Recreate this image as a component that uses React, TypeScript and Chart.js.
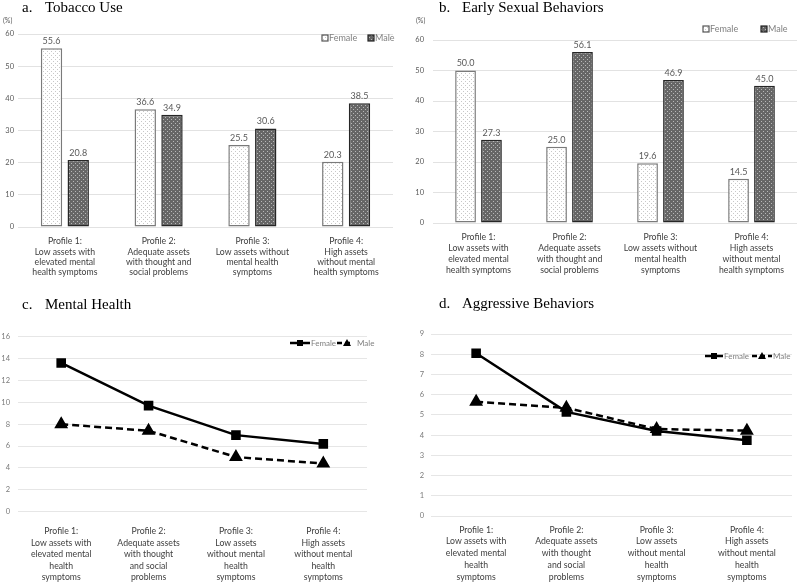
import React, { useEffect, useRef } from 'react';
import { Chart, registerables } from 'chart.js';

Chart.register(...registerables);

// ---------- data ----------
const barCategories = [
  ['Profile 1:', 'Low assets with', 'elevated mental', 'health symptoms'],
  ['Profile 2:', 'Adequate assets', 'with thought and', 'social problems'],
  ['Profile 3:', 'Low assets without', 'mental health', 'symptoms'],
  ['Profile 4:', 'High assets', 'without mental', 'health symptoms'],
];
const lineCategories = [
  ['Profile 1:', 'Low assets with', 'elevated mental', 'health', 'symptoms'],
  ['Profile 2:', 'Adequate assets', 'with thought', 'and social', 'problems'],
  ['Profile 3:', 'Low assets', 'without mental', 'health', 'symptoms'],
  ['Profile 4:', 'High assets', 'without mental', 'health', 'symptoms'],
];
const seriesNames = ['Female', 'Male'];

const tobaccoFemale = [55.6, 36.6, 25.5, 20.3];
const tobaccoMale = [20.8, 34.9, 30.6, 38.5];
const sexualFemale = [50.0, 25.0, 19.6, 14.5];
const sexualMale = [27.3, 56.1, 46.9, 45.0];
const mentalFemale = [13.6, 9.7, 7.0, 6.2];
const mentalMale = [8.0, 7.4, 5.0, 4.4];
const aggressiveFemale = [8.05, 5.15, 4.2, 3.75];
const aggressiveMale = [5.65, 5.35, 4.3, 4.22];

const percentTicks = { min: 0, max: 60, step: 10 };
const mentalTicks = { min: 0, max: 16, step: 2 };
const aggressiveTicks = { min: 0, max: 9, step: 1 };

// ---------- styles ----------
const SANS = "Lato, 'Open Sans', 'Liberation Sans', sans-serif";
const SERIF = "'Liberation Serif', 'Times New Roman', serif";
const CAT_SIZE = 8.7;

function makeDots(bg: string, dot: string) {
  const c = document.createElement('canvas');
  c.width = 4;
  c.height = 4;
  const x = c.getContext('2d')!;
  x.fillStyle = bg;
  x.fillRect(0, 0, 4, 4);
  x.fillStyle = dot;
  x.fillRect(1, 1, 1, 1);
  x.fillRect(3, 3, 1, 1);
  return x.createPattern(c, 'repeat');
}

function barConfig(p: any) {
  const femaleFill = makeDots('#ffffff', '#c8c8c8');
  const maleFill = makeDots('#666666', '#b8b8b8');
  const valueLabels = {
    id: 'valueLabels',
    afterDatasetsDraw(chart: any) {
      const ctx = chart.ctx;
      ctx.save();
      ctx.font = `9px ${SANS}`;
      ctx.fillStyle = '#595959';
      ctx.textAlign = 'center';
      ctx.textBaseline = 'middle';
      chart.data.datasets.forEach((ds: any, i: number) => {
        chart.getDatasetMeta(i).data.forEach((el: any, j: number) => {
          ctx.fillText(ds.data[j].toFixed(1), el.x, el.y - 7);
        });
      });
      ctx.restore();
    },
  };
  const boxLegend = {
    id: 'boxLegend',
    afterDraw(chart: any) {
      const ctx = chart.ctx;
      ctx.save();
      const fills = [femaleFill, maleFill];
      const strokes = ['#555555', '#222222'];
      seriesNames.forEach((name, i) => {
        const x = p.legendX[i];
        const y = p.legendY;
        ctx.fillStyle = fills[i];
        ctx.fillRect(x, y - 3, 6, 6);
        ctx.strokeStyle = strokes[i];
        ctx.lineWidth = 1.2;
        ctx.strokeRect(x, y - 3, 6, 6);
        ctx.fillStyle = '#808080';
        ctx.font = `9px ${SANS}`;
        ctx.textAlign = 'left';
        ctx.textBaseline = 'middle';
        ctx.fillText(name, x + 7, y);
      });
      ctx.restore();
    },
  };
  return {
    type: 'bar',
    data: {
      labels: barCategories,
      datasets: [
        {
          label: seriesNames[0],
          data: p.female,
          backgroundColor: femaleFill,
          borderColor: '#7a7a7a',
          borderWidth: 1.5,
          borderSkipped: false,
          barPercentage: 0.8,
          categoryPercentage: 0.57,
        },
        {
          label: seriesNames[1],
          data: p.male,
          backgroundColor: maleFill,
          borderColor: '#262626',
          borderWidth: 1.5,
          borderSkipped: false,
          barPercentage: 0.8,
          categoryPercentage: 0.57,
        },
      ],
    },
    options: {
      responsive: false,
      animation: false,
      layout: { padding: p.padding },
      plugins: { legend: { display: false }, tooltip: { enabled: false } },
      scales: {
        x: {
          grid: { display: false, drawTicks: false },
          border: { display: false },
          ticks: {
            autoSkip: false,
            maxRotation: 0,
            minRotation: 0,
            padding: p.xPad,
            color: '#404040',
            font: { family: SANS, size: CAT_SIZE, lineHeight: p.lh / CAT_SIZE },
          },
          afterFit: (s: any) => { s.height = p.xH; },
        },
        y: {
          min: p.ticks.min,
          max: p.ticks.max,
          ticks: { stepSize: p.ticks.step, padding: p.yPad, color: '#595959', font: { family: SANS, size: 7.5 } },
          grid: { color: '#e2e2e2', drawTicks: false },
          border: { display: false },
          afterFit: (s: any) => { s.width = p.yW; },
        },
      },
    },
    plugins: [valueLabels, boxLegend],
  };
}

function drawLineItem(ctx: any, x1: number, x2: number, y: number, dashed: boolean, style: string, mx: number, text: string, tx: number) {
  ctx.save();
  ctx.strokeStyle = '#000';
  ctx.lineWidth = 2.5;
  ctx.setLineDash(dashed ? [5, 3] : []);
  ctx.beginPath();
  ctx.moveTo(x1, y);
  ctx.lineTo(x2, y);
  ctx.stroke();
  ctx.setLineDash([]);
  ctx.fillStyle = '#000';
  if (style === 'rect') {
    ctx.fillRect(mx - 3, y - 3, 6, 6);
  } else {
    ctx.beginPath();
    ctx.moveTo(mx, y - 4);
    ctx.lineTo(mx + 4, y + 3);
    ctx.lineTo(mx - 4, y + 3);
    ctx.closePath();
    ctx.fill();
  }
  ctx.fillStyle = '#808080';
  ctx.font = `8px ${SANS}`;
  ctx.textAlign = 'left';
  ctx.textBaseline = 'middle';
  ctx.fillText(text, tx, y);
  ctx.restore();
}

function lineConfig(p: any) {
  const lineLegend = {
    id: 'lineLegend',
    afterDraw(chart: any) {
      const L = p.legend;
      drawLineItem(chart.ctx, L.f[0], L.f[1], L.y, false, 'rect', L.f[2], seriesNames[0], L.f[3]);
      drawLineItem(chart.ctx, L.m[0], L.m[1], L.y, true, 'triangle', L.m[2], seriesNames[1], L.m[3]);
    },
  };
  return {
    type: 'line',
    data: {
      labels: lineCategories,
      datasets: [
        {
          label: seriesNames[0],
          data: p.female,
          borderColor: '#000',
          backgroundColor: '#000',
          borderWidth: 2.5,
          pointStyle: 'rect',
          pointRadius: 5,
          pointBackgroundColor: '#000',
          pointBorderColor: '#000',
          tension: 0,
        },
        {
          label: seriesNames[1],
          data: p.male,
          borderColor: '#000',
          backgroundColor: '#000',
          borderWidth: 2.5,
          borderDash: [7, 4],
          pointStyle: 'triangle',
          pointRadius: 5.5,
          pointBackgroundColor: '#000',
          pointBorderColor: '#000',
          tension: 0,
        },
      ],
    },
    options: {
      responsive: false,
      animation: false,
      layout: { padding: p.padding },
      plugins: { legend: { display: false }, tooltip: { enabled: false } },
      scales: {
        x: {
          offset: true,
          grid: { display: false, drawTicks: false },
          border: { display: false },
          ticks: {
            autoSkip: false,
            maxRotation: 0,
            minRotation: 0,
            padding: p.xPad,
            color: '#404040',
            font: { family: SANS, size: CAT_SIZE, lineHeight: p.lh / CAT_SIZE },
          },
          afterFit: (s: any) => { s.height = p.xH; },
        },
        y: {
          min: p.ticks.min,
          max: p.ticks.max,
          ticks: { stepSize: p.ticks.step, padding: p.yPad, color: '#7a7a7a', font: { family: SANS, size: 7.5 } },
          grid: { color: '#e6e6e6', drawTicks: false },
          border: { display: false },
          afterFit: (s: any) => { s.width = p.yW; },
        },
      },
    },
    plugins: [lineLegend],
  };
}

function ChartBox({ left, top, width, height, config }: any) {
  const ref = useRef<HTMLCanvasElement>(null);
  useEffect(() => {
    const chart = new Chart(ref.current!, config());
    return () => chart.destroy();
  }, []);
  return (
    <canvas
      ref={ref}
      width={width}
      height={height}
      style={{ position: 'absolute', left, top, width, height }}
    />
  );
}

function Title({ left, top, tag, text }: any) {
  return (
    <div style={{ position: 'absolute', left, top, fontFamily: SERIF, fontSize: 15, lineHeight: '15px', color: '#000', whiteSpace: 'nowrap', zIndex: 2 }}>
      <span style={{ position: 'absolute', left: 0 }}>{tag}</span>
      <span style={{ position: 'absolute', left: 23 }}>{text}</span>
    </div>
  );
}

function Unit({ left, top }: any) {
  return (
    <div style={{ position: 'absolute', left, top, fontFamily: SANS, fontSize: 7, lineHeight: '8px', color: '#595959', zIndex: 2 }}>(%)</div>
  );
}

export default function App() {
  return (
    <div style={{ position: 'fixed', left: 0, top: 0, width: 800, height: 583, background: '#fff', overflow: 'hidden' }}>
      <ChartBox
        left={0} top={0} width={400} height={290}
        config={() => barConfig({
          female: tobaccoFemale, male: tobaccoMale, ticks: percentTicks,
          padding: { top: 34, right: 7, bottom: 0, left: 0 },
          yW: 18, yPad: 4, xH: 63, xPad: 9.5, lh: 10.3,
          legendX: [322, 368], legendY: 38,
        })}
      />
      <ChartBox
        left={400} top={0} width={400} height={290}
        config={() => barConfig({
          female: sexualFemale, male: sexualMale, ticks: percentTicks,
          padding: { top: 40, right: 3, bottom: 0, left: 0 },
          yW: 33, yPad: 9, xH: 67, xPad: 8.2, lh: 11,
          legendX: [303, 361], legendY: 29,
        })}
      />
      <ChartBox
        left={0} top={290} width={400} height={293}
        config={() => lineConfig({
          female: mentalFemale, male: mentalMale, ticks: mentalTicks,
          padding: { top: 46.7, right: 33, bottom: 0, left: 0 },
          yW: 17.5, yPad: 7.5, xH: 71.3, xPad: 14.2, lh: 11.5,
          legend: { y: 53, f: [290, 310, 300, 311], m: [337, 353, 347, 357] },
        })}
      />
      <ChartBox
        left={400} top={290} width={400} height={293}
        config={() => lineConfig({
          female: aggressiveFemale, male: aggressiveMale, ticks: aggressiveTicks,
          padding: { top: 44, right: 8, bottom: 0, left: 0 },
          yW: 31, yPad: 7, xH: 67, xPad: 8.1, lh: 11.7,
          legend: { y: 66, f: [305, 323, 314, 324], m: [352, 372, 362, 373] },
        })}
      />
      <Title left={22} top={0} tag="a." text="Tobacco Use" />
      <Title left={439} top={0} tag="b." text="Early Sexual Behaviors" />
      <Title left={22} top={297} tag="c." text="Mental Health" />
      <Title left={439} top={296} tag="d." text="Aggressive Behaviors" />
      <Unit left={3} top={16} />
      <Unit left={416} top={16} />
    </div>
  );
}
